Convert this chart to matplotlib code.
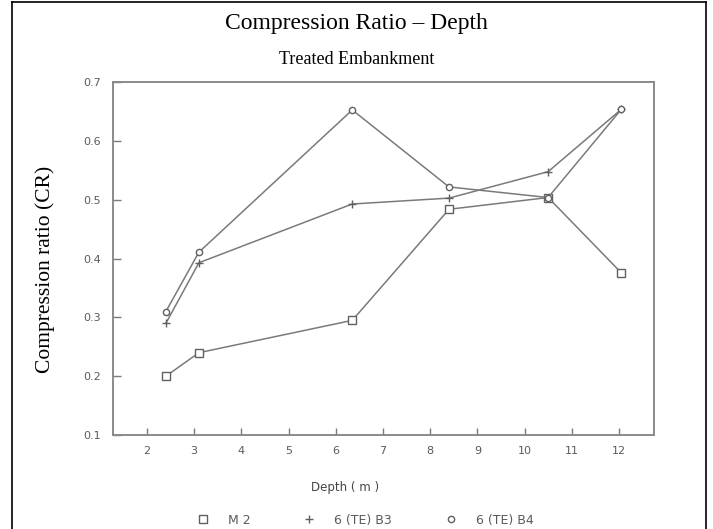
import matplotlib.pyplot as plt
from matplotlib.lines import Line2D

# depths (m) at which the samples were taken
depth = [2.4, 3.1, 6.35, 8.4, 10.5, 12.05]

series_names = ["M 2", "6 (TE) B3", "6 (TE) B4"]
cr_m2 = [0.20, 0.24, 0.295, 0.484, 0.504, 0.376]
cr_b3 = [0.29, 0.393, 0.493, 0.503, 0.548, 0.654]
cr_b4 = [0.31, 0.411, 0.653, 0.522, 0.504, 0.654]

x_ticks = [2, 3, 4, 5, 6, 7, 8, 9, 10, 11, 12]
y_ticks = [0.1, 0.2, 0.3, 0.4, 0.5, 0.6, 0.7]

gray = "#7a7a7a"
tick_gray = "#5a5a5a"

fig = plt.figure(figsize=(7.13, 5.29), dpi=100)
ax = fig.add_axes([0.1585, 0.1777, 0.7585, 0.6667])

markers = ["s", "+", "o"]
sizes = [6, 6, 4.5]
all_series = [cr_m2, cr_b3, cr_b4]
for vals, mk, ms in zip(all_series, markers, sizes):
    ax.plot(depth, vals, color=gray, lw=1.1, marker=mk, ms=ms,
            mfc="white", mec="#606060", mew=1.0)

ax.set_xlim(1.28, 12.74)
ax.set_ylim(0.1, 0.7)
ax.set_xticks(x_ticks)
ax.set_yticks(y_ticks)
ax.set_xticklabels([str(t) for t in x_ticks])
ax.set_yticklabels([f"{t:.1f}" for t in y_ticks])
ax.tick_params(direction="in", length=6, width=1, color=gray,
               labelsize=8, labelcolor=tick_gray, pad=9)
ax.tick_params(axis="x", length=5, pad=8)
for sp in ax.spines.values():
    sp.set_color("#8a8a8a")
    sp.set_linewidth(1.4)

ax.set_xlabel("Depth ( m )", fontsize=8.5, color="#444444")
ax.xaxis.set_label_coords(0.43, -0.13)

fig.text(0.064, 0.49, "Compression ratio (CR)", rotation=90,
         fontsize=15.5, family="Liberation Serif", ha="center", va="center")
fig.text(0.5, 0.955, "Compression Ratio \u2013 Depth", fontsize=17,
         family="Liberation Serif", ha="center", va="center")
fig.text(0.5, 0.888, "Treated Embankment", fontsize=13,
         family="Liberation Serif", ha="center", va="center")

handles = [Line2D([], [], ls="none", marker=mk, ms=ms, mfc="white",
                  mec="#606060", mew=1.0) for mk, ms in zip(markers, sizes)]
fig.legend(handles, series_names, loc="center", ncol=3, frameon=False,
           bbox_to_anchor=(0.512, 0.017), fontsize=9, labelcolor=tick_gray,
           handletextpad=1.5, columnspacing=4.2, handlelength=1.0)

# slide frame
fig.add_artist(Line2D([0.017, 0.017], [0, 0.997], color="black", lw=1.2))
fig.add_artist(Line2D([0.99, 0.99], [0, 0.997], color="black", lw=1.2))
fig.add_artist(Line2D([0.017, 0.99], [0.997, 0.997], color="black", lw=1.2))

fig.savefig("out.png", dpi=100)
